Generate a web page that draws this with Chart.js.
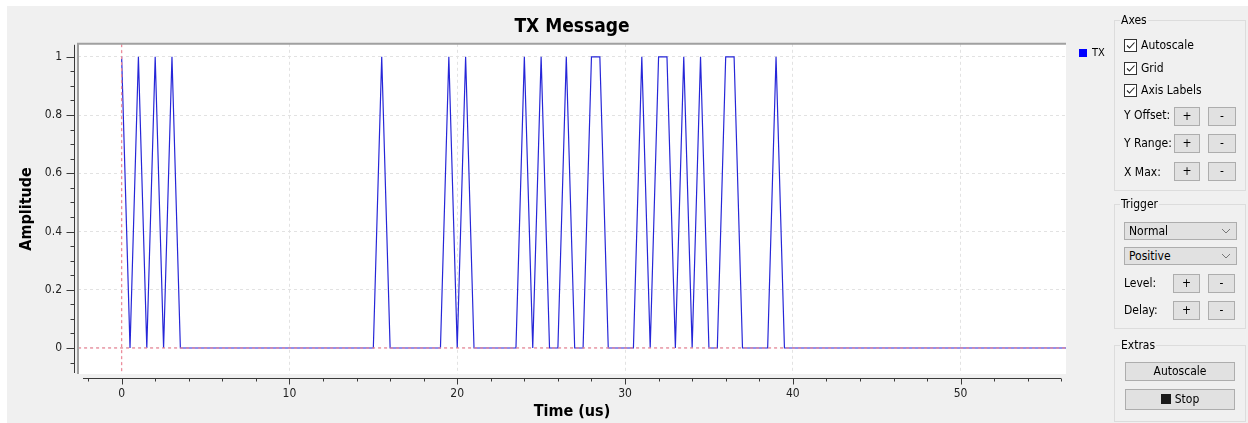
<!DOCTYPE html>
<html>
<head>
<meta charset="utf-8">
<script src="https://cdn.jsdelivr.net/npm/chart.js@4.4.1/dist/chart.umd.min.js"></script>
<style>
  html, body { margin: 0; padding: 0; background: #fff; }
  body { width: 1248px; height: 423px; position: relative; overflow: hidden;
         font-family: "DejaVu Sans Condensed", "DejaVu Sans", sans-serif; font-size: 12px; color: #000; }
  #bg { position: absolute; left: 7px; top: 6px; right: 0; bottom: 0; background: #f0f0f0; }
  #plot { position: absolute; left: 0; top: 0; width: 1110px; height: 423px; }
  .abs { position: absolute; }
  .group { position: absolute; border: 1px solid #dcdcdc; }
  .glabel { position: absolute; background: #f0f0f0; padding: 0 1px; line-height: 14px; }
  .chk { position: absolute; width: 11px; height: 11px; border: 1px solid #333; background: #fff; }
  .btn { position: absolute; box-sizing: border-box; border: 1px solid #adadad; background: #e1e1e1;
         text-align: center; line-height: 17px; }
  .combo { position: absolute; box-sizing: border-box; border: 1px solid #adadad; background: #e1e1e1;
           line-height: 16px; padding-left: 4px; }
  .combo svg { position: absolute; right: 5px; top: 5px; }
  .lbl { position: absolute; line-height: 14px; }
</style>
</head>
<body>
<div id="bg"></div>
<div id="plot"><canvas id="chart"></canvas></div>

<!-- legend -->
<div class="abs" style="left:1079px;top:49px;width:8px;height:8px;background:#0000ff;"></div>
<div class="lbl" style="left:1092px;top:46px;font-size:11px;">TX</div>

<!-- Axes group -->
<div class="group" style="left:1114px;top:20px;width:130px;height:169px;"></div>
<div class="glabel" style="left:1120px;top:13px;">Axes</div>
<div class="chk" style="left:1124px;top:39px;"><svg width="11" height="11"><path d="M2 5.5 L4.5 8 L9.5 2.5" stroke="#222" stroke-width="1.1" fill="none"/></svg></div>
<div class="lbl" style="left:1141px;top:38px;">Autoscale</div>
<div class="chk" style="left:1124px;top:62px;"><svg width="11" height="11"><path d="M2 5.5 L4.5 8 L9.5 2.5" stroke="#222" stroke-width="1.1" fill="none"/></svg></div>
<div class="lbl" style="left:1141px;top:61px;">Grid</div>
<div class="chk" style="left:1124px;top:84px;"><svg width="11" height="11"><path d="M2 5.5 L4.5 8 L9.5 2.5" stroke="#222" stroke-width="1.1" fill="none"/></svg></div>
<div class="lbl" style="left:1141px;top:83px;">Axis Labels</div>
<div class="lbl" style="left:1124px;top:108px;">Y Offset:</div>
<div class="btn" style="left:1174px;top:107px;width:26px;height:19px;">+</div>
<div class="btn" style="left:1208px;top:107px;width:28px;height:19px;">-</div>
<div class="lbl" style="left:1124px;top:136px;">Y Range:</div>
<div class="btn" style="left:1174px;top:134px;width:26px;height:19px;">+</div>
<div class="btn" style="left:1208px;top:134px;width:28px;height:19px;">-</div>
<div class="lbl" style="left:1124px;top:165px;">X Max:</div>
<div class="btn" style="left:1174px;top:162px;width:26px;height:19px;">+</div>
<div class="btn" style="left:1208px;top:162px;width:28px;height:19px;">-</div>

<!-- Trigger group -->
<div class="group" style="left:1114px;top:204px;width:130px;height:123px;"></div>
<div class="glabel" style="left:1120px;top:197px;">Trigger</div>
<div class="combo" style="left:1124px;top:222px;width:113px;height:18px;">Normal<svg width="10" height="6"><path d="M1 1 L5 5 L9 1" stroke="#777" fill="none"/></svg></div>
<div class="combo" style="left:1124px;top:247px;width:113px;height:18px;">Positive<svg width="10" height="6"><path d="M1 1 L5 5 L9 1" stroke="#777" fill="none"/></svg></div>
<div class="lbl" style="left:1124px;top:276px;">Level:</div>
<div class="btn" style="left:1173px;top:274px;width:27px;height:19px;">+</div>
<div class="btn" style="left:1208px;top:274px;width:27px;height:19px;">-</div>
<div class="lbl" style="left:1124px;top:303px;">Delay:</div>
<div class="btn" style="left:1173px;top:301px;width:27px;height:19px;">+</div>
<div class="btn" style="left:1208px;top:301px;width:27px;height:19px;">-</div>

<!-- Extras group -->
<div class="group" style="left:1114px;top:345px;width:130px;height:75px;"></div>
<div class="glabel" style="left:1120px;top:338px;">Extras</div>
<div class="btn" style="left:1125px;top:362px;width:110px;height:19px;">Autoscale</div>
<div class="btn" style="left:1125px;top:389px;width:110px;height:21px;line-height:19px;"><span style="display:inline-block;width:10px;height:10px;background:#1a1a1a;vertical-align:-1px;margin-right:4px;"></span>Stop</div>

<script>
// samples of the TX message (time in microseconds, amplitude 0..1)
const timeUs = [0, 0.5, 1, 1.5, 2, 2.5, 3, 3.5, 15, 15.5, 16, 19, 19.5, 20, 20.5, 21,
                23.5, 24, 24.5, 25, 25.5, 26, 26.5, 27, 27.5, 28, 28.5, 29,
                30.5, 31, 31.5, 32, 32.5, 33, 33.5, 34, 34.5, 35, 35.5, 36, 36.5, 37,
                38.5, 39, 39.5, 57];
const amplitude = [1, 0, 1, 0, 1, 0, 1, 0, 0, 1, 0, 0, 1, 0, 1, 0,
                   0, 1, 0, 1, 0, 0, 1, 0, 0, 1, 1, 0,
                   0, 1, 0, 1, 1, 0, 1, 0, 1, 0, 0, 1, 1, 0,
                   0, 1, 0, 0];

const xTickValues = [0, 10, 20, 30, 40, 50];
const yTickValues = [0, 0.2, 0.4, 0.6, 0.8, 1];
const xRange = [-2.6, 56.28];
const yRange = [-0.0893, 1.0447];

// trigger markers (level / delay)
const triggerLevel = 0;
const triggerDelay = 0;

const FONT = '"DejaVu Sans Condensed", "DejaVu Sans", sans-serif';

var txPoints = timeUs.map(function(t, i) { return { x: t, y: amplitude[i] }; });

// white plot canvas, sunken frame, qwt-like axes with minor ticks
var qwtFrame = {
  id: 'qwtFrame',
  afterLayout: function(chart) {
    // center the title over the plot canvas
    chart.titleBlock.left = chart.chartArea.left;
    chart.titleBlock.right = chart.chartArea.right;
  },
  beforeDraw: function(chart) {
    var a = chart.chartArea, ctx = chart.ctx;
    ctx.save();
    ctx.fillStyle = '#ffffff';
    ctx.fillRect(a.left, a.top, a.right - a.left, a.bottom - a.top);
    ctx.restore();
  },
  afterDraw: function(chart) {
    var a = chart.chartArea, ctx = chart.ctx;
    var xs = chart.scales.x, ys = chart.scales.y;
    ctx.save();
    // frame
    ctx.strokeStyle = '#a0a0a0';
    ctx.lineWidth = 2;
    ctx.beginPath();
    ctx.moveTo(a.left, a.bottom);
    ctx.lineTo(a.left, a.top);
    ctx.lineTo(a.right, a.top);
    ctx.stroke();

    ctx.strokeStyle = '#3a3a3a';
    ctx.lineWidth = 1;
    // y axis backbone + ticks
    var yx = a.left - 3.5;
    ctx.beginPath();
    ctx.moveTo(yx, a.top + 1);
    ctx.lineTo(yx, a.bottom - 1);
    var v, p;
    for (v = -0.05; v <= yRange[1]; v += 0.05) {
      p = Math.round(ys.getPixelForValue(v)) + 0.5;
      if (p < a.top || p > a.bottom) continue;
      var major = yTickValues.some(function(t) { return Math.abs(t - v) < 1e-6; });
      ctx.moveTo(yx - (major ? 8 : 4), p);
      ctx.lineTo(yx, p);
    }
    ctx.stroke();

    // x axis backbone + ticks
    var xy = a.bottom + 4.5;
    ctx.beginPath();
    ctx.moveTo(a.left + 5, xy);
    ctx.lineTo(a.right - 5, xy);
    for (v = -2; v <= xRange[1]; v += 2) {
      p = Math.round(xs.getPixelForValue(v)) + 0.5;
      var majorX = xTickValues.indexOf(v) >= 0;
      ctx.moveTo(p, xy);
      ctx.lineTo(p, xy + (majorX ? 6 : 3));
    }
    ctx.stroke();
    ctx.restore();
  }
};

var chart = new Chart(document.getElementById('chart'), {
  type: 'line',
  data: {
    datasets: [
      {
        label: 'Trigger level',
        data: [{ x: xRange[0] - 5, y: triggerLevel }, { x: xRange[1] + 5, y: triggerLevel }],
        borderColor: '#ec8c9c',
        borderWidth: 1.3,
        borderDash: [3, 3],
        pointRadius: 0
      },
      {
        label: 'Trigger delay',
        data: [{ x: triggerDelay, y: yRange[0] - 1 }, { x: triggerDelay, y: yRange[1] + 1 }],
        borderColor: '#ec8c9c',
        borderWidth: 1.3,
        borderDash: [3, 3],
        pointRadius: 0
      },
      {
        label: 'TX',
        data: txPoints,
        borderColor: '#2626d8',
        borderWidth: 1.2,
        pointRadius: 0,
        tension: 0
      }
    ]
  },
  options: {
    responsive: true,
    maintainAspectRatio: false,
    animation: false,
    layout: { padding: { left: 0, top: 0, right: 44, bottom: 0 } },
    plugins: {
      legend: { display: false },
      tooltip: { enabled: false },
      title: {
        display: true,
        text: 'TX Message',
        color: '#000',
        font: { family: FONT, size: 19, weight: 'bold', lineHeight: 1.2 },
        padding: { top: 16, bottom: 5 }
      }
    },
    scales: {
      x: {
        type: 'linear',
        min: xRange[0],
        max: xRange[1],
        afterBuildTicks: function(scale) {
          scale.ticks = xTickValues.map(function(v) { return { value: v }; });
        },
        afterFit: function(scale) { scale.height = 49; },
        grid: { color: '#e2e2e2', drawTicks: false },
        border: { display: false, dash: [3, 3] },
        ticks: {
          padding: 13,
          color: '#222',
          font: { family: FONT, size: 12 },
          maxRotation: 0,
          callback: function(v) { return String(v); }
        },
        title: {
          display: true,
          text: 'Time (us)',
          color: '#000',
          font: { family: FONT, size: 16, weight: 'bold', lineHeight: 1.2 },
          padding: { top: 0, bottom: 1.5 }
        }
      },
      y: {
        type: 'linear',
        min: yRange[0],
        max: yRange[1],
        afterBuildTicks: function(scale) {
          scale.ticks = yTickValues.map(function(v) { return { value: v }; });
        },
        afterFit: function(scale) { scale.width = 78; },
        grid: { color: '#e2e2e2', drawTicks: false },
        border: { display: false, dash: [3, 3] },
        ticks: {
          padding: 16,
          color: '#222',
          font: { family: FONT, size: 12 },
          callback: function(v) { return String(v); }
        },
        title: {
          display: true,
          text: 'Amplitude',
          color: '#000',
          font: { family: FONT, size: 16, weight: 'bold', lineHeight: 1.2 },
          padding: { top: 17, bottom: 0 }
        }
      }
    }
  },
  plugins: [qwtFrame]
});
</script>
</body>
</html>
